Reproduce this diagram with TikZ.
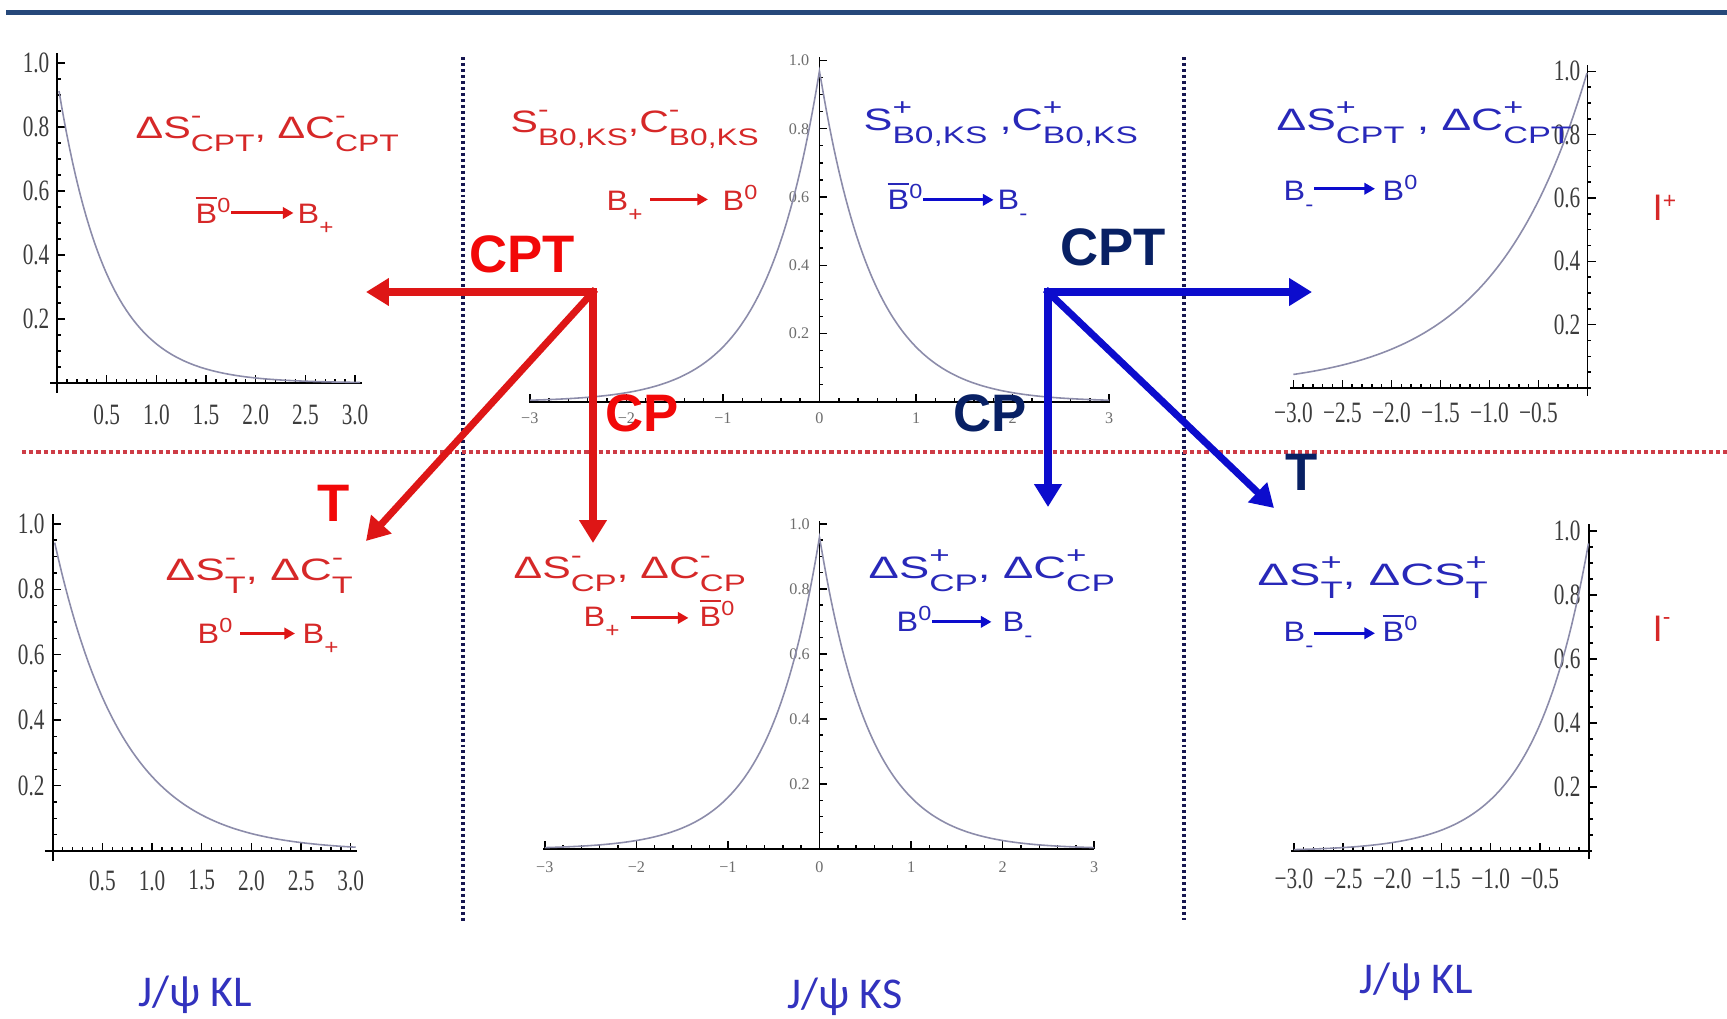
\documentclass[tikz,border=0pt]{standalone}
\usepackage{fontspec}
\usepackage{graphicx}
\setmainfont{Liberation Sans}
\newfontfamily\tickfont{Liberation Serif}
\newfontfamily\jfont{Carlito}
\usetikzlibrary{arrows.meta}

\definecolor{lred}{RGB}{214,40,40}
\definecolor{ared}{RGB}{222,22,22}
\definecolor{bred}{RGB}{242,8,8}
\definecolor{lblue}{RGB}{40,40,185}
\definecolor{ablue}{RGB}{12,12,205}
\definecolor{navy}{RGB}{8,32,100}
\definecolor{toplinec}{RGB}{38,72,122}
\definecolor{dotblue}{RGB}{22,22,80}
\definecolor{dotred}{RGB}{205,60,70}
\definecolor{curvecol}{RGB}{140,140,170}
\definecolor{ticklab}{RGB}{60,60,60}
\definecolor{jblue}{RGB}{50,50,190}

\newcommand\mainsz{\fontsize{8.8pt}{10pt}\selectfont}
\newcommand\subsz{\fontsize{6.8pt}{8pt}\selectfont}
\newcommand\supsub[2]{\rlap{\subsz\raisebox{0.62em}{#1}}{\subsz\raisebox{-0.58em}{#2}}}
\newcommand\bsz{\fontsize{8pt}{9pt}\selectfont}
\newcommand\bsup[1]{{\fontsize{5.8pt}{7pt}\selectfont\raisebox{3pt}{#1}}}
\newcommand\bsub[1]{{\fontsize{6pt}{7pt}\selectfont\raisebox{-3.2pt}{#1}}}
\newcommand\Bbar{{\setbox0\hbox{B}\rlap{\rule[\dimexpr\ht0+1.4pt\relax]{\wd0}{0.55pt}}B}}

\tikzset{
  lbl/.style={inner sep=0pt, anchor=base west, font=\mainsz},
  bl/.style={inner sep=0pt, anchor=base west, font=\bsz},
  big/.style={inner sep=0pt, font=\fontsize{15pt}{17pt}\selectfont\bfseries},
  axisln/.style={black, line width=0.55pt},
  tk/.style={black, line width=0.4pt},
  crv/.style={curvecol, line width=0.45pt},
  tl/.style={inner sep=0pt, text=ticklab, font=\tickfont\fontsize{8.4pt}{9pt}\selectfont},
  tls/.style={inner sep=0pt, text=ticklab!75, font=\tickfont\fontsize{4.6pt}{5pt}\selectfont},
  bigarrow/.style={line width=2pt, line cap=rect, -{Triangle[length=6.5pt,width=7.5pt]}},
  smallarrow/.style={line width=0.85pt, -{Triangle[length=3pt,width=3.2pt]}},
  jl/.style={inner sep=0pt, anchor=base, text=jblue, font=\jfont\fontsize{12.5pt}{14pt}\selectfont},
  il/.style={inner sep=0pt, anchor=base west, text=lred, font=\fontsize{10.5pt}{12pt}\selectfont},
}

\begin{document}
\begin{tikzpicture}[x=0.01cm,y=-0.01cm]
\fill[white] (0,0) rectangle (1727,1018);
\useasboundingbox (0,0) rectangle (1727,1018);

% top rule
\draw[toplinec, line width=1.5pt] (6,12.5) -- (1727,12.5);

% ---------- Plot A (top left) ----------
\begin{scope}[shift={(57,383)},x={(0.993cm,0)},y={(0,3.2cm)}]
  \draw[axisln] (-0.07,0) -- (3.07,0);
  \draw[axisln] (0,-0.03) -- (0,1.03);
  \foreach \t in {0.1,0.2,...,3.05} \draw[tk] (\t,0) -- ++(0,1.1pt);
  \foreach \t in {0.5,1.0,...,3.05} \draw[tk] (\t,0) -- ++(0,2.4pt);
  \foreach \t in {0.05,0.1,...,1.01} \draw[tk] (0,\t) -- ++(1.1pt,0);
  \foreach \t in {0.2,0.4,...,1.01} \draw[tk] (0,\t) -- ++(2.4pt,0);
  \foreach \t/\l [count=\i] in {0.5/0.5,1/1.0,1.5/1.5,2/2.0,2.5/2.5,3/3.0}
    \node[tl] (Ax\i) at (\t,-0.1) {\scalebox{0.72}[1]{\l}};
  \foreach \t/\l [count=\i] in {0.2/0.2,0.4/0.4,0.6/0.6,0.8/0.8,1/1.0}
    \node[tl,anchor=east] (Ay\i) at (-0.07,\t) {\scalebox{0.72}[1]{\l}};
  \draw[crv] plot[domain=0.02:3.05,samples=90] (\x,{0.95*exp(-2.05*\x)});
\end{scope}

% ---------- Plot B (top middle) ----------
\begin{scope}[shift={(819.5,401.7)},x={(0.965cm,0)},y={(0,3.41cm)}]
  \draw[axisln] (-3.01,0) -- (3.01,0);
  \draw[axisln] (0,0) -- (0,1.01);
  \foreach \t in {-3,-2.8,...,3.01} \draw[tk] (\t,0) -- ++(0,1.1pt);
  \foreach \t in {-3,-2,...,3} \draw[tk] (\t,0) -- ++(0,2.2pt);
  \foreach \t in {0.05,0.1,...,1.01} \draw[tk] (0,\t) -- ++(1.1pt,0);
  \foreach \t in {0.2,0.4,...,1.01} \draw[tk] (0,\t) -- ++(2.2pt,0);
  \foreach \t/\l [count=\i] in {-3/−3,-2/−2,-1/−1,0/0,1/1,2/2,3/3}
    \node[tls] (Bx\i) at (\t,-0.047) {\l};
  \foreach \t/\l [count=\i] in {0.2/0.2,0.4/0.4,0.6/0.6,0.8/0.8,1/1.0}
    \node[tls,anchor=east] (By\i) at (-0.1,\t) {\l};
  \draw[crv] plot[domain=-3:3,samples=241] (\x,{0.97*exp(-1.8*abs(\x))});
\end{scope}

% ---------- Plot C (top right) ----------
\begin{scope}[shift={(1587.5,388)},x={(0.98cm,0)},y={(0,3.165cm)}]
  \draw[axisln] (-3.03,0) -- (0.04,0);
  \draw[axisln] (0,-0.025) -- (0,1.02);
  \foreach \t in {-3.0,-2.9,...,-0.05} \draw[tk] (\t,0) -- ++(0,1.1pt);
  \foreach \t in {-3.0,-2.5,...,-0.4} \draw[tk] (\t,0) -- ++(0,2.4pt);
  \foreach \t in {0.05,0.1,...,1.01} \draw[tk] (0,\t) -- ++(1.1pt,0);
  \foreach \t in {0.2,0.4,...,1.01} \draw[tk] (0,\t) -- ++(2.4pt,0);
  \foreach \t/\l [count=\i] in {-3/−3.0,-2.5/−2.5,-2/−2.0,-1.5/−1.5,-1/−1.0,-0.5/−0.5}
    \node[tl] (Cx\i) at (\t,-0.079) {\scalebox{0.72}[1]{\l}};
  \foreach \t/\l [count=\i] in {0.2/0.2,0.4/0.4,0.6/0.6,0.8/0.8,1/1.0}
    \node[tl,anchor=east] (Cy\i) at (-0.066,\t) {\scalebox{0.72}[1]{\l}};
  \draw[crv] plot[domain=-3:-0.005,samples=90] (\x,{exp(1.05*\x)});
\end{scope}

% ---------- Plot D (bottom left) ----------
\begin{scope}[shift={(52.7,851)},x={(0.993cm,0)},y={(0,3.27cm)}]
  \draw[axisln] (-0.08,0) -- (3.06,0);
  \draw[axisln] (0,-0.03) -- (0,1.03);
  \foreach \t in {0.1,0.2,...,3.05} \draw[tk] (\t,0) -- ++(0,1.1pt);
  \foreach \t in {0.5,1.0,...,3.05} \draw[tk] (\t,0) -- ++(0,2.4pt);
  \foreach \t in {0.05,0.1,...,1.01} \draw[tk] (0,\t) -- ++(1.1pt,0);
  \foreach \t in {0.2,0.4,...,1.01} \draw[tk] (0,\t) -- ++(2.4pt,0);
  \foreach \t/\l [count=\i] in {0.5/0.5,1/1.0,1.5/1.5,2/2.0,2.5/2.5,3/3.0}
    \node[tl] (Dx\i) at (\t,-0.09) {\scalebox{0.72}[1]{\l}};
  \foreach \t/\l [count=\i] in {0.2/0.2,0.4/0.4,0.6/0.6,0.8/0.8,1/1.0}
    \node[tl,anchor=east] (Dy\i) at (-0.075,\t) {\scalebox{0.72}[1]{\l}};
  \draw[crv] plot[domain=0.02:3.05,samples=90] (\x,{0.97*exp(-1.45*\x)});
\end{scope}

% ---------- Plot E (bottom middle) ----------
\begin{scope}[shift={(819.5,849)},x={(0.915cm,0)},y={(0,3.25cm)}]
  \draw[axisln] (-3.02,0) -- (3.0,0);
  \draw[axisln] (0,0) -- (0,1.01);
  \foreach \t in {-3,-2.8,...,3.01} \draw[tk] (\t,0) -- ++(0,1.1pt);
  \foreach \t in {-3,-2,...,3} \draw[tk] (\t,0) -- ++(0,2.2pt);
  \foreach \t in {0.05,0.1,...,1.01} \draw[tk] (0,\t) -- ++(1.1pt,0);
  \foreach \t in {0.2,0.4,...,1.01} \draw[tk] (0,\t) -- ++(2.2pt,0);
  \foreach \t/\l [count=\i] in {-3/−3,-2/−2,-1/−1,0/0,1/1,2/2,3/3}
    \node[tls] (Ex\i) at (\t,-0.055) {\l};
  \foreach \t/\l [count=\i] in {0.2/0.2,0.4/0.4,0.6/0.6,0.8/0.8,1/1.0}
    \node[tls,anchor=east] (Ey\i) at (-0.1,\t) {\l};
  \draw[crv] plot[domain=-3:3,samples=241] (\x,{0.96*exp(-1.8*abs(\x))});
\end{scope}

% ---------- Plot F (bottom right) ----------
\begin{scope}[shift={(1589,851)},x={(0.983cm,0)},y={(0,3.2cm)}]
  \draw[axisln] (-3.03,0) -- (0.03,0);
  \draw[axisln] (0,-0.025) -- (0,1.02);
  \foreach \t in {-3.0,-2.9,...,-0.05} \draw[tk] (\t,0) -- ++(0,1.1pt);
  \foreach \t in {-3.0,-2.5,...,-0.4} \draw[tk] (\t,0) -- ++(0,2.4pt);
  \foreach \t in {0.05,0.1,...,1.01} \draw[tk] (0,\t) -- ++(1.1pt,0);
  \foreach \t in {0.2,0.4,...,1.01} \draw[tk] (0,\t) -- ++(2.4pt,0);
  \foreach \t/\l [count=\i] in {-3/−3.0,-2.5/−2.5,-2/−2.0,-1.5/−1.5,-1/−1.0,-0.5/−0.5}
    \node[tl] (Fx\i) at (\t,-0.086) {\scalebox{0.72}[1]{\l}};
  \foreach \t/\l [count=\i] in {0.2/0.2,0.4/0.4,0.6/0.6,0.8/0.8,1/1.0}
    \node[tl,anchor=east] (Fy\i) at (-0.08,\t) {\scalebox{0.72}[1]{\l}};
  \draw[crv] plot[domain=-3:-0.005,samples=90] (\x,{0.97*exp(1.8*\x)});
\end{scope}

% ---------- dotted separators ----------
\draw[dotblue, line width=1.1pt, dash pattern=on 0.85pt off 0.85pt] (462.6,57) -- (462.6,923);
\draw[dotblue, line width=1.1pt, dash pattern=on 0.85pt off 0.85pt] (1184,57) -- (1184,920);
\draw[dotred, line width=1.0pt, dash pattern=on 1.2pt off 0.85pt] (22,452) -- (1727,452);

% ---------- labels, top row ----------
\node[lbl,text=lred] (tlA) at (135,138) {\resizebox{2.63cm}{\height}{ΔS\supsub{-}{CPT}, ΔC\supsub{-}{CPT}}};
\node[lbl,text=lred] (tmA) at (510,132) {\resizebox{2.48cm}{\height}{S\supsub{-}{B0,KS},C\supsub{-}{B0,KS}}};
\node[lbl,text=lblue] (tmB) at (863,130) {\resizebox{2.74cm}{\height}{S\supsub{+}{B0,KS} ,C\supsub{+}{B0,KS}}};
\node[lbl,text=lblue] (trA) at (1276,130) {\resizebox{2.95cm}{\height}{ΔS\supsub{+}{CPT} , ΔC\supsub{+}{CPT}}};

% ---------- labels, bottom row ----------
\node[lbl,text=lred] (blA) at (165,580) {\resizebox{1.87cm}{\height}{ΔS\supsub{-}{T}, ΔC\supsub{-}{T}}};
\node[lbl,text=lred] (bmA) at (513,578) {\resizebox{2.32cm}{\height}{ΔS\supsub{-}{CP}, ΔC\supsub{-}{CP}}};
\node[lbl,text=lblue] (bmB) at (868,578) {\resizebox{2.46cm}{\height}{ΔS\supsub{+}{CP}, ΔC\supsub{+}{CP}}};
\node[lbl,text=lblue] (brA) at (1257,585) {\resizebox{2.30cm}{\height}{ΔS\supsub{+}{T}, ΔCS\supsub{+}{T}}};

% ---------- transition lines ----------
\node[bl,text=lred] (tl1) at (195,223) {\scalebox{1.15}[1]{\Bbar\bsup{0}}};
\node[bl,text=lred] (tl2) at (297,223) {\scalebox{1.15}[1]{B\bsub{+}}};
\draw[smallarrow,ared] ([yshift=2.85pt]tl1.base east) -- ([yshift=2.85pt,xshift=-1pt]tl2.base west);

\node[bl,text=lred] (tm1) at (606,210) {\scalebox{1.15}[1]{B\bsub{+}}};
\node[bl,text=lred] (tm2) at (722,210) {\scalebox{1.15}[1]{B\bsup{0}}};
\draw[smallarrow,ared] ([yshift=3pt,xshift=2pt]tm1.base east) -- ([yshift=3pt,xshift=-4pt]tm2.base west);

\node[bl,text=lblue] (tb1) at (887,209) {\scalebox{1.15}[1]{\Bbar\bsup{0}}};
\node[bl,text=lblue] (tb2) at (997,209) {\scalebox{1.15}[1]{B\bsub{-}}};
\draw[smallarrow,ablue] ([yshift=2.6pt]tb1.base east) -- ([yshift=2.6pt,xshift=-1pt]tb2.base west);

\node[bl,text=lblue] (tr1) at (1283,200) {\scalebox{1.15}[1]{B\bsub{-}}};
\node[bl,text=lblue] (tr2) at (1382,200) {\scalebox{1.15}[1]{B\bsup{0}}};
\draw[smallarrow,ablue] ([yshift=3.2pt]tr1.base east) -- ([yshift=3.2pt,xshift=-2pt]tr2.base west);

\node[bl,text=lred] (bl1) at (197,643) {\scalebox{1.15}[1]{B\bsup{0}}};
\node[bl,text=lred] (bl2) at (302,643) {\scalebox{1.15}[1]{B\bsub{+}}};
\draw[smallarrow,ared] ([yshift=2.7pt,xshift=2pt]bl1.base east) -- ([yshift=2.7pt,xshift=-2pt]bl2.base west);

\node[bl,text=lred] (bm1) at (583,626) {\scalebox{1.15}[1]{B\bsub{+}}};
\node[bl,text=lred] (bm2) at (699,626) {\scalebox{1.15}[1]{\Bbar\bsup{0}}};
\draw[smallarrow,ared] ([yshift=2.3pt,xshift=3pt]bm1.base east) -- ([yshift=2.3pt,xshift=-3pt]bm2.base west);

\node[bl,text=lblue] (bb1) at (896,631) {\scalebox{1.15}[1]{B\bsup{0}}};
\node[bl,text=lblue] (bb2) at (1002,631) {\scalebox{1.15}[1]{B\bsub{-}}};
\draw[smallarrow,ablue] ([yshift=2.6pt]bb1.base east) -- ([yshift=2.6pt,xshift=-3pt]bb2.base west);

\node[bl,text=lblue] (br1) at (1283,641) {\scalebox{1.15}[1]{B\bsub{-}}};
\node[bl,text=lblue] (br2) at (1382,641) {\scalebox{1.15}[1]{\Bbar\bsup{0}}};
\draw[smallarrow,ablue] ([yshift=2.2pt]br1.base east) -- ([yshift=2.2pt,xshift=-2pt]br2.base west);

% ---------- I+ / I- ----------
\node[il] (Iplus) at (1652,220) {I\raisebox{3.4pt}{\fontsize{6.5pt}{7pt}\selectfont +}};
\node[il] (Iminus) at (1652,641) {I\raisebox{4.6pt}{\fontsize{6.5pt}{7pt}\selectfont -}};

% ---------- big symmetry arrows ----------
\coordinate (Or) at (593,292);
\coordinate (OrL) at (366,292);
\coordinate (OrD) at (593,543);
\coordinate (OrDL) at (366,541);
\coordinate (Ob) at (1048,292);
\coordinate (ObR) at (1312,292);
\coordinate (ObD) at (1048,507);
\coordinate (ObDR) at (1274,508);

\draw[bigarrow,ared] (Or) -- (OrL);
\draw[bigarrow,ared] (Or) -- (OrD);
\draw[bigarrow,ared] (Or) -- (OrDL);
\draw[bigarrow,ablue] (Ob) -- (ObR);
\draw[bigarrow,ablue] (Ob) -- (ObD);
\draw[bigarrow,ablue] (Ob) -- (ObDR);

\node[big,text=bred] (cptR) at (522,254) {CPT};
\node[big,text=bred] (cpR) at (642,413) {CP};
\node[big,text=bred] (tR) at (334,503) {T};
\node[big,text=navy] (cptB) at (1113,247) {CPT};
\node[big,text=navy] (cpB) at (990,413) {CP};
\node[big,text=navy] (tB) at (1302,472) {T};

% ---------- channel names ----------
\node[jl] (jkl1) at (195,1006) {J/ψ KL};
\node[jl] (jks) at (845,1008) {J/ψ KS};
\node[jl] (jkl2) at (1416,993) {J/ψ KL};
\end{tikzpicture}
\end{document}
